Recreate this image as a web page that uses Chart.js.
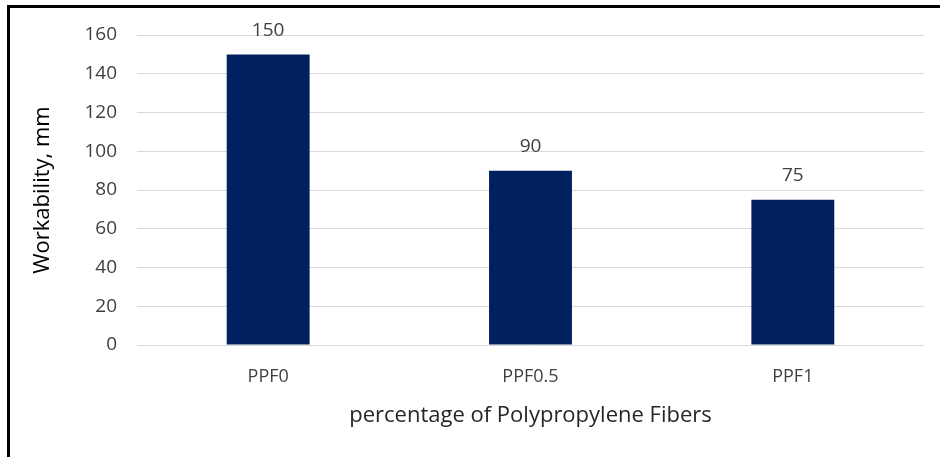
<!DOCTYPE html>
<html>
<head>
<meta charset="utf-8">
<script src="https://cdn.jsdelivr.net/npm/chart.js@4.4.1/dist/chart.umd.min.js"></script>
<style>
  body { margin: 0; background: #fff; overflow: hidden; }
  #cadre { position: absolute; left: 7px; top: 5px; width: 1000px; height: 500px; border-left: 3px solid #000; border-top: 3px solid #000; }
  #box { position: absolute; left: 0; top: 0; width: 940px; height: 457px; }
</style>
</head>
<body>
<div id="cadre"></div>
<div id="box"><canvas id="graficoTrabalhabilidade"></canvas></div>
<script>
// dados do gráfico
var categorias = ["PPF0", "PPF0.5", "PPF1"];
var trabalhabilidade = [150, 90, 75];
var ticksY = [0, 20, 40, 60, 80, 100, 120, 140, 160];

var fonte = "'Open Sans', sans-serif";

// rótulos em cima das barras
const rotulosBarras = {
  id: "rotulosBarras",
  afterDatasetsDraw(chart) {
    const ctx = chart.ctx;
    const meta = chart.getDatasetMeta(0);
    ctx.save();
    ctx.font = "19px " + fonte;
    ctx.fillStyle = "#404040";
    ctx.textAlign = "center";
    ctx.textBaseline = "middle";
    meta.data.forEach(function (barra, i) {
      ctx.fillText(trabalhabilidade[i], barra.x, barra.y - 24);
    });
    ctx.restore();
  }
};

const config = {
  type: "bar",
  data: {
    labels: categorias,
    datasets: [{
      label: "Workability",
      data: trabalhabilidade,
      backgroundColor: "#002060",
      borderWidth: 0,
      categoryPercentage: 1,
      barPercentage: 0.316
    }]
  },
  options: {
    responsive: false,
    animation: false,
    layout: { padding: { left: 30, right: 16, top: 35, bottom: 0 } },
    plugins: { legend: { display: false }, tooltip: { enabled: false } },
    scales: {
      x: {
        grid: { display: false, drawTicks: false },
        border: { display: false },
        ticks: { color: "#404040", font: { family: fonte, size: 18 }, padding: 21 },
        title: { display: true, text: "percentage of Polypropylene Fibers", color: "#262626",
                 font: { family: fonte, size: 22 }, padding: { top: 0, bottom: 28 } },
        afterFit: function (scale) { scale.height = 112; }
      },
      y: {
        min: 0,
        max: 160,
        afterBuildTicks: function (scale) { scale.ticks = ticksY.map(function (v) { return { value: v }; }); },
        grid: { color: "#d9d9d9", lineWidth: 1, drawTicks: false },
        border: { display: false },
        ticks: { color: "#404040", font: { family: fonte, size: 19 }, padding: 20 },
        title: { display: true, text: "Workability, mm", color: "#000",
                 font: { family: fonte, size: 22 }, padding: { top: 0, bottom: 0 } },
        afterFit: function (scale) { scale.width = 107; }
      }
    }
  },
  plugins: [rotulosBarras]
};

var canvas = document.getElementById("graficoTrabalhabilidade");
canvas.width = 940;
canvas.height = 457;
var grafico = new Chart(canvas, config);
</script>
</body>
</html>
